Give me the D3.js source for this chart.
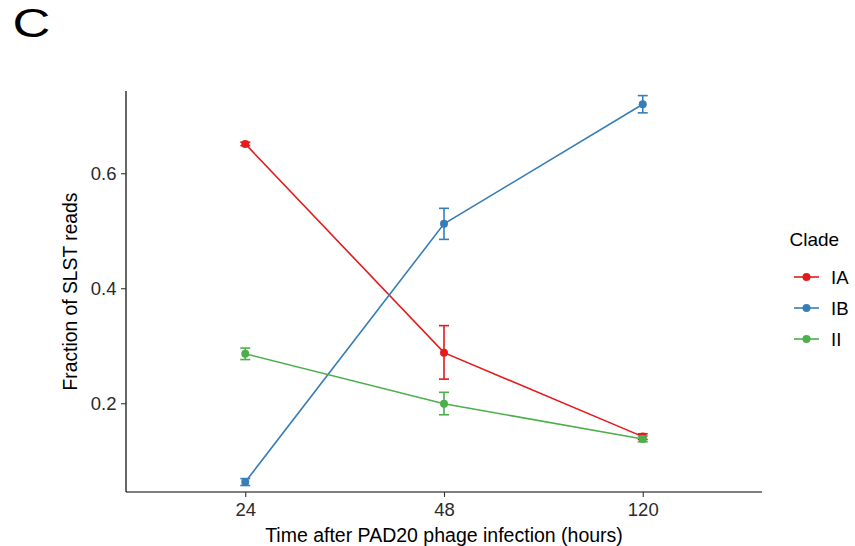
<!DOCTYPE html>
<html>
<head>
<meta charset="utf-8">
<script src="https://cdn.jsdelivr.net/npm/d3@7"></script>
<style>
  html, body { margin: 0; padding: 0; background: #fff; }
  svg { display: block; font-family: "Liberation Sans", Arial, Helvetica, sans-serif; }
</style>
</head>
<body>
<svg id="chart" width="855" height="546"></svg>
<script>
// Time points (hours) shown as discrete categories
const timepoints = ["24", "48", "120"];
const clades = ["IA", "IB", "II"];
const cladeColors = ["#E41A1C", "#377EB8", "#4DAF4A"];

// Mean fraction of SLST reads per clade, with lower / upper error bounds
const meanIA = [0.651, 0.288, 0.142];
const lowIA  = [0.648, 0.242, 0.137];
const highIA = [0.654, 0.335, 0.147];

const meanIB = [0.063, 0.512, 0.720];
const lowIB  = [0.057, 0.485, 0.705];
const highIB = [0.069, 0.539, 0.735];

const meanII = [0.286, 0.199, 0.138];
const lowII  = [0.276, 0.180, 0.133];
const highII = [0.296, 0.219, 0.143];

const yTicks = [0.2, 0.4, 0.6];

const series = [
  { name: "IA", mean: meanIA, low: lowIA, high: highIA },
  { name: "IB", mean: meanIB, low: lowIB, high: highIB },
  { name: "II", mean: meanII, low: lowII, high: highII }
];

const svg = d3.select("#chart");
const panel = { left: 126, right: 762, top: 91, bottom: 492 };

const x = d3.scalePoint().domain(timepoints).range([panel.left, panel.right]).padding(0.6);
const y = d3.scaleLinear().domain([0.0457, 0.743]).range([panel.bottom, panel.top]);
const color = d3.scaleOrdinal().domain(clades).range(cladeColors);

// Panel letter
svg.append("text")
  .attr("transform", "translate(12.4,37) scale(1.31,1)")
  .attr("font-size", 40).attr("fill", "#000").text("C");

// Axes
const xAxis = svg.append("g").attr("transform", `translate(0,${panel.bottom})`)
  .call(d3.axisBottom(x).tickSize(5).tickPadding(5.5));
const yAxis = svg.append("g").attr("transform", `translate(${panel.left},0)`)
  .call(d3.axisLeft(y).tickValues(yTicks).tickFormat(d3.format(".1f")).tickSize(5).tickPadding(4.5));

[xAxis, yAxis].forEach(g => {
  g.select(".domain").attr("stroke", "#000").attr("stroke-width", 1.2);
  g.selectAll(".tick line").attr("stroke", "#333").attr("stroke-width", 1.1);
  g.selectAll(".tick text").attr("fill", "#2b2b2b").attr("font-size", 18.5)
    .attr("font-family", "Liberation Sans, Arial, sans-serif");
});
xAxis.select(".domain").attr("d", `M${panel.left},0H${panel.right}`);
yAxis.select(".domain").attr("d", `M0,${panel.top}V${panel.bottom}`);

// Axis titles
svg.append("text").attr("x", (panel.left + panel.right) / 2).attr("y", 542)
  .attr("text-anchor", "middle").attr("font-size", 19.5).attr("fill", "#000")
  .text("Time after PAD20 phage infection (hours)");
svg.append("text")
  .attr("transform", `translate(77,${(panel.top + panel.bottom) / 2}) rotate(-90)`)
  .attr("text-anchor", "middle").attr("font-size", 19.3).attr("fill", "#000")
  .text("Fraction of SLST reads");

// Lines, error bars, points
const line = d3.line().x((d, i) => x(timepoints[i])).y(d => y(d));
const capHalf = 5;

series.forEach(s => {
  const c = color(s.name);
  const g = svg.append("g");
  g.append("path").datum(s.mean).attr("d", line)
    .attr("fill", "none").attr("stroke", c).attr("stroke-width", 1.6);

  timepoints.forEach((t, i) => {
    const cx = x(t);
    const eb = g.append("g").attr("stroke", c).attr("stroke-width", 1.6);
    eb.append("line").attr("x1", cx).attr("x2", cx).attr("y1", y(s.low[i])).attr("y2", y(s.high[i]));
    eb.append("line").attr("x1", cx - capHalf).attr("x2", cx + capHalf).attr("y1", y(s.low[i])).attr("y2", y(s.low[i]));
    eb.append("line").attr("x1", cx - capHalf).attr("x2", cx + capHalf).attr("y1", y(s.high[i])).attr("y2", y(s.high[i]));
  });

  g.selectAll("circle").data(s.mean).join("circle")
    .attr("cx", (d, i) => x(timepoints[i])).attr("cy", d => y(d))
    .attr("r", 4).attr("fill", c);
});

// Legend
const legend = svg.append("g");
legend.append("text").attr("x", 789.5).attr("y", 245.7)
  .attr("font-size", 19).attr("fill", "#000").text("Clade");
clades.forEach((name, i) => {
  const ly = 277 + i * 31;
  const c = color(name);
  legend.append("line").attr("x1", 794).attr("x2", 819).attr("y1", ly).attr("y2", ly)
    .attr("stroke", c).attr("stroke-width", 1.6);
  legend.append("circle").attr("cx", 806.5).attr("cy", ly).attr("r", 4).attr("fill", c);
  legend.append("text").attr("x", 831).attr("y", ly + 6.8)
    .attr("font-size", 18.6).attr("fill", "#000").text(name);
});
</script>
</body>
</html>
